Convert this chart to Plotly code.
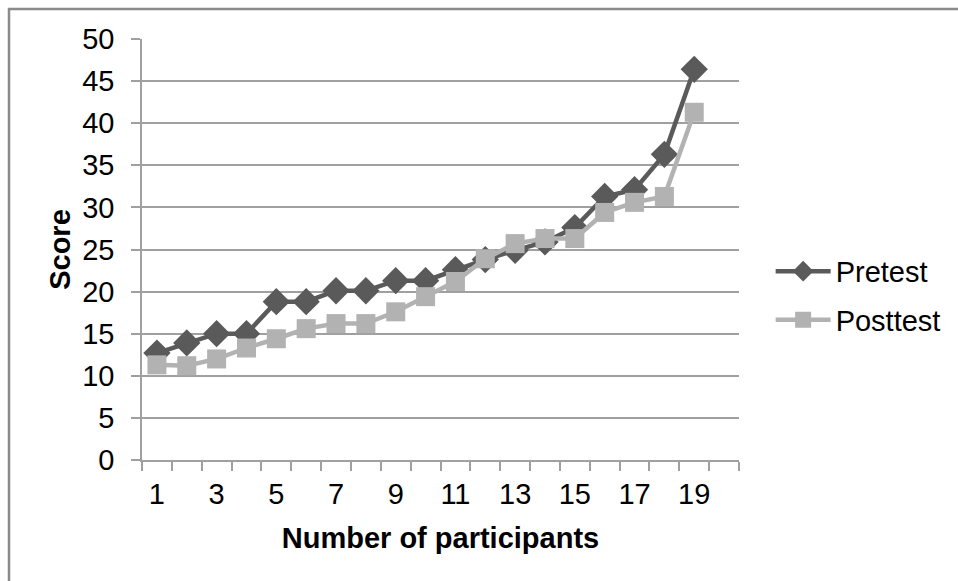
import plotly.graph_objects as go

participants = list(range(1, 20))
pretest = [12.7, 13.9, 15.0, 15.0, 18.8, 18.8, 20.1, 20.1, 21.3, 21.3,
           22.6, 23.8, 24.9, 25.9, 27.6, 31.3, 32.1, 36.3, 46.4]
posttest = [11.3, 11.2, 12.0, 13.3, 14.4, 15.6, 16.2, 16.2, 17.6, 19.4,
            21.2, 23.9, 25.7, 26.3, 26.3, 29.4, 30.6, 31.3, 41.3]
x_tick_labels = [str(v) for v in range(1, 20, 2)]
y_ticks = list(range(0, 51, 5))

FONT = "Liberation Sans, Arial, sans-serif"
AXIS_GRAY = "#a0a0a0"
FS = 29

fig = go.Figure()
fig.add_trace(go.Scatter(
    x=participants, y=pretest, name="Pretest", mode="lines+markers",
    legendgroup="a",
    line=dict(color="#5a5a5a", width=4.5),
    marker=dict(symbol="diamond", size=21, color="#5a5a5a"),
))
fig.add_trace(go.Scatter(
    x=participants, y=posttest, name="Posttest", mode="lines+markers",
    legendgroup="b",
    line=dict(color="#b2b2b2", width=4.5),
    marker=dict(symbol="square", size=19, color="#b2b2b2"),
))

fig.update_layout(
    width=958, height=581,
    margin=dict(l=142, r=219, t=39, b=121),
    paper_bgcolor="white", plot_bgcolor="white",
    font=dict(family=FONT, size=FS, color="black"),
    showlegend=True,
    legend=dict(x=1.053, y=0.39, xanchor="left", yanchor="middle",
                font=dict(size=FS), itemwidth=55, tracegroupgap=8,
                bgcolor="rgba(0,0,0,0)"),
    xaxis=dict(
        range=[0.5, 20.5], tickmode="array",
        tickvals=list(range(1, 20, 2)), ticktext=x_tick_labels,
        ticks="", showgrid=False, zeroline=False,
        showline=True, linecolor=AXIS_GRAY, linewidth=1.5,
        minor=dict(tickmode="array", tickvals=[v + 0.5 for v in range(0, 21)],
                   ticks="outside", ticklen=9, tickcolor=AXIS_GRAY, tickwidth=1.5,
                   showgrid=False),
        tickfont=dict(size=FS), ticklabelstandoff=7,
        title=dict(text="<b>Number of participants</b>", font=dict(size=FS), standoff=19),
    ),
    yaxis=dict(
        range=[0, 50], tickmode="array", tickvals=y_ticks,
        ticks="outside", ticklen=9, tickcolor=AXIS_GRAY, tickwidth=1.5,
        showgrid=True, gridcolor=AXIS_GRAY, gridwidth=1.5,
        zeroline=False, showline=True, linecolor=AXIS_GRAY, linewidth=1.5,
        tickfont=dict(size=FS), ticklabelstandoff=11,
        title=dict(text="<b>Score</b>", font=dict(size=FS), standoff=3),
    ),
    shapes=[dict(type="rect", xref="paper", yref="paper",
                 x0=(9 - 142) / 597, x1=(1100 - 142) / 597,
                 y0=(460 - 700) / 421, y1=(460 - 9) / 421,
                 line=dict(color="#8a8a8a", width=2.5), layer="below")],
)

fig.write_html("out.html", config={"displayModeBar": False},
               post_script="document.body.style.margin='0';")
